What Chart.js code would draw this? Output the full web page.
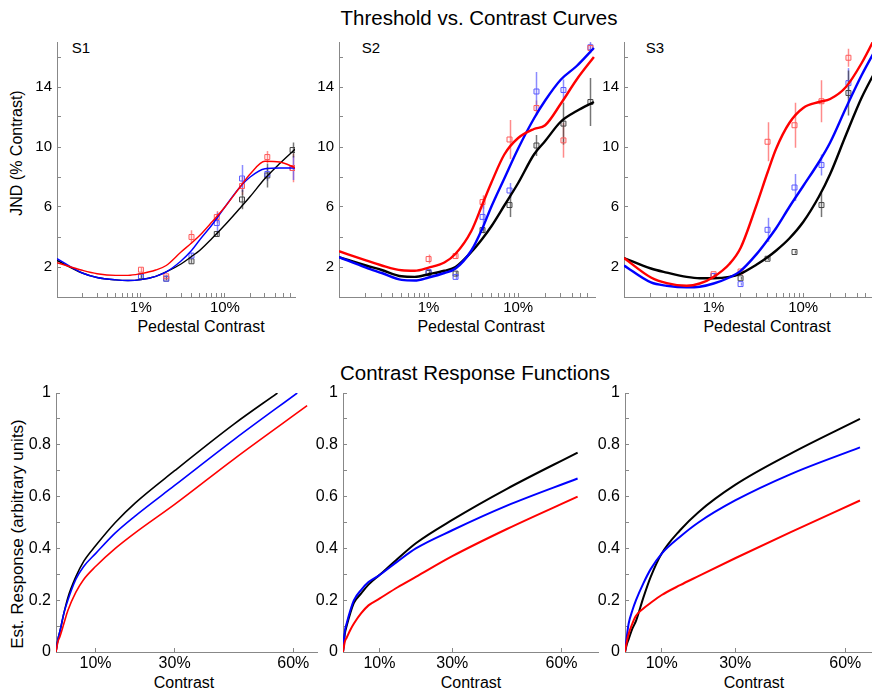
<!DOCTYPE html>
<html>
<head>
<meta charset="utf-8">
<script src="https://cdn.jsdelivr.net/npm/chart.js@4"></script>
<style>
    html, body { margin: 0; padding: 0; background: #fff; overflow: hidden; width: 872px; height: 694px; }
    body { position: relative; font-family: "Liberation Sans", Arial, sans-serif; color: #000; }
    canvas { position: absolute; }
    .txt { position: absolute; white-space: nowrap; transform: translate(-50%, -50%); line-height: 1; }
    .big { font-size: 20.5px; }
    .ax { font-size: 16px; }
    .rot { transform: translate(-50%, -50%) rotate(-90deg); }
    .lab { font-size: 15px; }
</style>
</head>
<body>
<div class="txt big" style="left:479px;top:18px">Threshold vs. Contrast Curves</div>
<div class="txt big" style="left:475px;top:373px">Contrast Response Functions</div>

<div class="txt lab" style="left:81px;top:47px">S1</div>
<div class="txt lab" style="left:371px;top:47px">S2</div>
<div class="txt lab" style="left:655px;top:47px">S3</div>

<div class="txt ax rot" style="left:17px;top:153px">JND (% Contrast)</div>
<div class="txt ax rot" style="left:17px;top:534px;font-size:17px">Est. Response (arbitrary units)</div>

<div class="txt ax" style="left:201px;top:327px">Pedestal Contrast</div>
<div class="txt ax" style="left:481px;top:327px">Pedestal Contrast</div>
<div class="txt ax" style="left:767px;top:327px">Pedestal Contrast</div>
<div class="txt ax" style="left:184px;top:683px">Contrast</div>
<div class="txt ax" style="left:471px;top:683px">Contrast</div>
<div class="txt ax" style="left:754px;top:683px">Contrast</div>

<canvas id="s1" width="300" height="310" style="left:0;top:30px"></canvas>
<canvas id="s2" width="300" height="310" style="left:300px;top:30px"></canvas>
<canvas id="s3" width="300" height="310" style="left:590px;top:30px"></canvas>
<canvas id="b1" width="320" height="314" style="left:0;top:380px"></canvas>
<canvas id="b2" width="300" height="314" style="left:300px;top:380px"></canvas>
<canvas id="b3" width="300" height="314" style="left:590px;top:380px"></canvas>

<script>
/************** data ****************/

// threshold vs contrast: pedestals tested (% contrast) and fitted curve samples
const pedestal = [1, 2, 4, 8, 16, 32, 64];
const tvcCurveX = [0.1, 0.2, 0.3, 0.5, 0.7, 1, 1.5, 2, 3, 4, 5, 7, 10, 15, 20, 30, 45, 70];
const tvcXTicks = [0.1, 0.2, 0.3, 0.4, 0.5, 0.6, 0.7, 0.8, 0.9, 1, 2, 3, 4, 5, 6, 7, 8, 9, 10, 20, 30, 40, 50, 60];
const tvcXLabels = [1, 10];
const tvcYTicks = [2, 4, 6, 8, 10, 12, 14, 16];
const tvcYLabels = [2, 6, 10, 14];

// S1
const s1RedJnd = [1.82, 1.38, 4.0, 5.33, 7.4, 9.33, 8.6];
const s1RedErr = [0.15, 0.1, 0.45, 0.4, 0.6, 0.4, 0.95];
const s1BlueJnd = [1.33, 1.22, 2.76, 4.93, 7.9, 8.2, 8.6];
const s1BlueErr = [0.1, 0.1, 0.2, 0.7, 0.9, 0.45, 0.8];
const s1BlackJnd = [1.38, 1.22, 2.38, 4.2, 6.5, 8.1, 9.8];
const s1BlackErr = [0.1, 0.1, 0.15, 0.2, 0.65, 0.8, 0.5];
const s1RedFit = [2.29, 1.78, 1.55, 1.44, 1.44, 1.56, 1.8, 2.1, 3.0, 3.6, 4.1, 5.0, 6.0, 7.3, 8.2, 9.05, 9.0, 8.6];
const s1BlueFit = [2.56, 1.6, 1.3, 1.14, 1.1, 1.16, 1.38, 1.67, 2.4, 3.1, 3.8, 4.8, 6.0, 7.3, 8.0, 8.55, 8.6, 8.6];
const s1BlackFit = [2.44, 1.6, 1.3, 1.14, 1.1, 1.16, 1.38, 1.67, 2.2, 2.7, 3.1, 3.9, 4.8, 5.9, 6.7, 7.9, 8.9, 9.9];

// S2
const s2RedJnd = [2.53, 2.73, 6.33, 10.5, 12.6, 10.44, 16.6];
const s2RedErr = [0.3, 0.2, 0.45, 1.3, 0.5, 1.15, 0.3];
const s2BlueJnd = [1.67, 1.34, 5.34, 7.1, 13.7, 13.8, 16.65];
const s2BlueErr = [0.15, 0.15, 0.9, 0.5, 1.3, 0.7, 0.4];
const s2BlackJnd = [1.6, 1.56, 4.46, 6.13, 10.1, 11.56, 13.0];
const s2BlackErr = [0.1, 0.15, 0.2, 0.8, 0.7, 1.4, 1.6];
const s2RedFit = [3.05, 2.44, 2.1, 1.78, 1.75, 1.96, 2.3, 2.88, 4.4, 6.2, 7.6, 9.5, 10.6, 11.2, 11.45, 12.9, 14.5, 16.0];
const s2BlueFit = [2.66, 1.96, 1.6, 1.14, 1.1, 1.3, 1.6, 1.9, 3.1, 4.6, 6.0, 7.9, 9.9, 11.9, 13.1, 14.5, 15.4, 16.6];
const s2BlackFit = [2.66, 2.1, 1.8, 1.38, 1.34, 1.52, 1.75, 2.0, 3.0, 3.9, 4.7, 6.1, 7.6, 9.5, 10.4, 11.7, 12.4, 13.0];

// S3 (64% pedestal falls outside the frame)
const s3RedJnd = [1.52, 1.7, 10.35, 11.45, 13.05, 15.95];
const s3RedErr = [0.1, 0.2, 1.3, 1.5, 1.4, 0.6];
const s3BlueJnd = [1.4, 0.86, 4.48, 7.3, 8.8, 14.26];
const s3BlueErr = [0.1, 0.1, 0.8, 0.9, 0.7, 1.0];
const s3BlackJnd = [1.4, 1.25, 2.55, 3.0, 6.13, 13.6];
const s3BlackErr = [0.1, 0.1, 0.1, 0.1, 0.8, 1.5];
const s3RedFit = [2.6, 1.3, 0.92, 0.75, 0.9, 1.34, 2.2, 3.27, 6.1, 8.3, 9.9, 11.6, 12.6, 13.0, 13.2, 14.0, 15.6, 17.8];
const s3BlueFit = [2.1, 0.97, 0.75, 0.64, 0.68, 0.9, 1.3, 1.74, 2.84, 3.8, 4.6, 6.0, 7.4, 9.0, 10.3, 12.6, 14.8, 16.9];
const s3BlackFit = [2.6, 1.9, 1.63, 1.34, 1.25, 1.25, 1.34, 1.56, 2.15, 2.65, 3.1, 3.9, 5.0, 6.7, 8.2, 10.8, 13.3, 15.5];

// contrast response functions (x in % contrast); last x of each series is its own end point
const crfX = [0, 0.5, 1, 2, 3, 5, 7, 10, 15, 20, 30, 45];
const crfXTicks = [10, 30, 60];
const crfYTicks = [0, 0.1, 0.2, 0.3, 0.4, 0.5, 0.6, 0.7, 0.8, 0.9, 1];

const b1EndX = [56, 61, 63.5]; // black, blue, red
const b1Black = [0, 0.05, 0.08, 0.15, 0.21, 0.29, 0.35, 0.41, 0.5, 0.575, 0.70, 0.88, 1.0];
const b1Blue = [0, 0.05, 0.08, 0.15, 0.2, 0.28, 0.33, 0.38, 0.46, 0.525, 0.643, 0.82, 1.0];
const b1Red = [0, 0.04, 0.06, 0.11, 0.16, 0.23, 0.28, 0.33, 0.40, 0.46, 0.57, 0.745, 0.951];

const b2EndX = [64.4, 64.4, 64.4];
const b2Black = [0, 0.07, 0.10, 0.15, 0.19, 0.226, 0.26, 0.297, 0.36, 0.42, 0.51, 0.63, 0.77];
const b2Blue = [0, 0.08, 0.11, 0.16, 0.20, 0.24, 0.27, 0.297, 0.35, 0.40, 0.47, 0.565, 0.67];
const b2Red = [0, 0.04, 0.055, 0.085, 0.11, 0.15, 0.18, 0.206, 0.25, 0.29, 0.37, 0.475, 0.60];

const b3EndX = [64, 64, 64];
const b3Black = [0, 0.03, 0.05, 0.09, 0.12, 0.21, 0.29, 0.38, 0.47, 0.54, 0.645, 0.765, 0.90];
const b3Blue = [0, 0.06, 0.11, 0.16, 0.20, 0.265, 0.32, 0.38, 0.445, 0.50, 0.585, 0.686, 0.79];
const b3Red = [0, 0.04, 0.07, 0.11, 0.14, 0.168, 0.19, 0.22, 0.258, 0.293, 0.362, 0.462, 0.585];

/************** helpers ****************/

const AXIS = '#888';
Chart.defaults.font.family = '"Liberation Sans", Arial, sans-serif';
Chart.defaults.color = '#000';

function pts(xs, ys) {
    return ys.map((y, i) => ({ x: xs[i], y: y }));
}

// keep the plot area exactly where the layout padding puts it
function noScalePadding(s) {
    s.paddingTop = 0;
    s.paddingBottom = 0;
    s.paddingLeft = 0;
    s.paddingRight = 0;
}

// vertical error bars, drawn under the curves through the chart's own scales
const errorBars = {
    id: 'errorBars',
    beforeDatasetsDraw(chart) {
        const ctx = chart.ctx;
        const xs = chart.scales.x, ys = chart.scales.y;
        const a = chart.chartArea;
        ctx.save();
        ctx.beginPath();
        ctx.rect(a.left, a.top, a.right - a.left, a.bottom - a.top);
        ctx.clip();
        chart.data.datasets.forEach((ds) => {
            if (!ds.errors) return;
            ctx.strokeStyle = ds.barColor;
            ctx.lineWidth = 1.5;
            ds.data.forEach((p, j) => {
                const e = ds.errors[j];
                const x = Math.round(xs.getPixelForValue(p.x)) + 0.5;
                ctx.beginPath();
                ctx.moveTo(x, ys.getPixelForValue(p.y - e));
                ctx.lineTo(x, ys.getPixelForValue(p.y + e));
                ctx.stroke();
            });
        });
        ctx.restore();
    }
};

function curve(data, color, width) {
    return {
        data: data, borderColor: color, borderWidth: width, pointRadius: 0,
        fill: false, cubicInterpolationMode: 'monotone', showLine: true
    };
}

function marks(jnd, err, color, bar) {
    return {
        data: pts(pedestal, jnd), errors: err, barColor: bar, showLine: false,
        pointStyle: 'rect', pointRadius: 3.5, borderWidth: 1,
        borderColor: color, backgroundColor: 'rgba(255,255,255,0)'
    };
}

function tvcChart(id, yWidth, padRight, xMax, lw, fits, dots) {
    const datasets = [
        curve(pts(tvcCurveX, fits[0]), '#ff0000', lw),
        curve(pts(tvcCurveX, fits[1]), '#0000ff', lw),
        curve(pts(tvcCurveX, fits[2]), '#000000', lw),
        marks(dots[0], dots[1], '#ff5a5a', 'rgba(255,90,90,0.7)'),
        marks(dots[2], dots[3], '#5a5aff', 'rgba(90,90,255,0.7)'),
        marks(dots[4], dots[5], '#444444', 'rgba(60,60,60,0.7)')
    ];
    new Chart(document.getElementById(id), {
        type: 'scatter',
        data: { datasets: datasets },
        plugins: [errorBars],
        options: {
            responsive: false, animation: false, devicePixelRatio: 1,
            layout: { padding: { top: 12, right: padRight, left: 0, bottom: 0 } },
            plugins: { legend: { display: false }, tooltip: { enabled: false } },
            scales: {
                x: {
                    type: 'logarithmic', min: 0.1, max: xMax,
                    border: { color: AXIS },
                    grid: { drawOnChartArea: false, tickLength: -4, color: AXIS },
                    ticks: {
                        autoSkip: false, maxRotation: 0, padding: 6, font: { size: 15 },
                        callback: (v) => tvcXLabels.some(l => Math.abs(l - v) < 1e-9) ? v + '%' : ''
                    },
                    afterBuildTicks: (s) => { s.ticks = tvcXTicks.map(v => ({ value: v })); },
                    afterFit: (s) => { s.height = 43; noScalePadding(s); }
                },
                y: {
                    min: 0, max: 17,
                    border: { color: AXIS },
                    grid: { drawOnChartArea: false, tickLength: -4, color: AXIS },
                    ticks: {
                        autoSkip: false, padding: 9, font: { size: 15 },
                        callback: (v) => tvcYLabels.includes(v) ? String(v) : ''
                    },
                    afterBuildTicks: (s) => { s.ticks = tvcYTicks.map(v => ({ value: v })); },
                    afterFit: (s) => { s.width = yWidth; noScalePadding(s); }
                }
            }
        }
    });
}

function crfChart(id, yWidth, padRight, xMax, lw, endX, black, blue, red) {
    const xsFor = (k) => crfX.concat([endX[k]]);
    const datasets = [
        curve(pts(xsFor(2), red), '#ff0000', lw),
        curve(pts(xsFor(1), blue), '#0000ff', lw),
        curve(pts(xsFor(0), black), '#000000', lw)
    ];
    new Chart(document.getElementById(id), {
        type: 'scatter',
        data: { datasets: datasets },
        options: {
            responsive: false, animation: false, devicePixelRatio: 1,
            layout: { padding: { top: 13, right: padRight, left: 0, bottom: 0 } },
            plugins: { legend: { display: false }, tooltip: { enabled: false } },
            scales: {
                x: {
                    type: 'linear', min: 0, max: xMax,
                    border: { color: AXIS },
                    grid: { drawOnChartArea: false, tickLength: -4, color: AXIS },
                    ticks: { autoSkip: false, maxRotation: 0, padding: 6, font: { size: 16 }, callback: (v) => v + '%' },
                    afterBuildTicks: (s) => { s.ticks = crfXTicks.map(v => ({ value: v })); },
                    afterFit: (s) => { s.height = 42; noScalePadding(s); }
                },
                y: {
                    min: 0, max: 1,
                    border: { color: AXIS },
                    grid: { drawOnChartArea: false, tickLength: -4, color: AXIS },
                    ticks: {
                        autoSkip: false, padding: 9, font: { size: 16 },
                        callback: (v) => Math.round(v * 10) % 2 === 0 ? String(Math.round(v * 10) / 10) : ''
                    },
                    afterBuildTicks: (s) => { s.ticks = crfYTicks.map(v => ({ value: v })); },
                    afterFit: (s) => { s.width = yWidth; noScalePadding(s); }
                }
            }
        }
    });
}

/************** charts ****************/

tvcChart('s1', 57, 2, 68.4, 1.4,
    [s1RedFit, s1BlueFit, s1BlackFit],
    [s1RedJnd, s1RedErr, s1BlueJnd, s1BlueErr, s1BlackJnd, s1BlackErr]);

tvcChart('s2', 39, 3, 72, 2.4,
    [s2RedFit, s2BlueFit, s2BlackFit],
    [s2RedJnd, s2RedErr, s2BlueJnd, s2BlueErr, s2BlackJnd, s2BlackErr]);

tvcChart('s3', 34, 10, 72, 2.4,
    [s3RedFit, s3BlueFit, s3BlackFit],
    [s3RedJnd, s3RedErr, s3BlueJnd, s3BlueErr, s3BlackJnd, s3BlackErr]);

crfChart('b1', 56, 3, 66, 1.6, b1EndX, b1Black, b1Blue, b1Red);
crfChart('b2', 43, 2, 70, 2, b2EndX, b2Black, b2Blue, b2Red);
crfChart('b3', 35, 8, 70, 2, b3EndX, b3Black, b3Blue, b3Red);
</script>
</body>
</html>
